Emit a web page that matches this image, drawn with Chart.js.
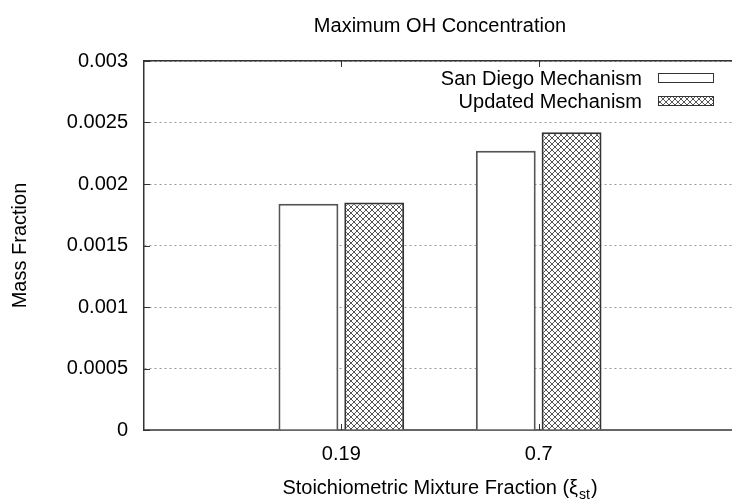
<!DOCTYPE html>
<html>
<head>
<meta charset="utf-8">
<script src="https://cdn.jsdelivr.net/npm/chart.js@4/dist/chart.umd.min.js"></script>
<style>
  html, body { margin: 0; padding: 0; background: #fff; overflow: hidden; }
  canvas { display: block; }
</style>
</head>
<body>
<canvas id="chart" width="740" height="504"></canvas>
<script>
// x categories (stoichiometric mixture fraction) and peak OH mass fraction per mechanism
var categories = ['0.19', '0.7'];
var sanDiego = [0.00184, 0.00227];
var updated = [0.00185, 0.00242];
var seriesNames = ['San Diego Mechanism', 'Updated Mechanism'];

var FONT = '"Liberation Sans", Arial, Helvetica, sans-serif';

var ctx = document.getElementById('chart').getContext('2d');

// cross-hatch fill
var tile = document.createElement('canvas');
tile.width = 6; tile.height = 6;
var t = tile.getContext('2d');
t.fillStyle = '#fff';
t.fillRect(0, 0, 6, 6);
t.strokeStyle = '#555';
t.lineWidth = 1;
t.beginPath();
t.moveTo(0, 0); t.lineTo(6, 6);
t.moveTo(6, 0); t.lineTo(0, 6);
t.stroke();
var hatch = ctx.createPattern(tile, 'repeat');

// empty slots either side so the two groups sit at 1/3 and 2/3 of the axis
var labels = [''].concat(categories, ['']);
function pad(arr) { return [null].concat(arr, [null]); }

var decor = {
  id: 'decor',
  afterDraw: function(chart) {
    var c = chart.ctx;
    var a = chart.chartArea;
    var cx = (a.left + a.right) / 2;
    c.save();
    c.fillStyle = '#000';
    c.font = '20px ' + FONT;

    // title
    c.textAlign = 'center';
    c.textBaseline = 'alphabetic';
    c.fillText('Maximum OH Concentration', cx, 32);

    // x axis title with subscript
    var main = 'Stoichiometric Mixture Fraction (\u03BE';
    c.font = '20px ' + FONT;
    var w1 = c.measureText(main).width;
    c.font = '14px ' + FONT;
    var w2 = c.measureText('st').width;
    c.font = '20px ' + FONT;
    var w3 = c.measureText(')').width;
    var x0 = cx - (w1 + w2 + w3 + 2) / 2;
    c.textAlign = 'left';
    c.fillText(main, x0, 494);
    c.font = '14px ' + FONT;
    c.fillText('st', x0 + w1 + 1, 499);
    c.font = '20px ' + FONT;
    c.fillText(')', x0 + w1 + w2 + 2, 494);

    // y axis title
    c.save();
    c.translate(20, (a.top + a.bottom) / 2);
    c.rotate(-Math.PI / 2);
    c.textAlign = 'center';
    c.textBaseline = 'middle';
    c.fillText('Mass Fraction', 0, 0);
    c.restore();

    // inward tick marks
    c.strokeStyle = '#333';
    c.lineWidth = 1;
    c.beginPath();
    var ys = chart.scales.y;
    ys.ticks.forEach(function(tk) {
      var py = Math.round(ys.getPixelForValue(tk.value)) + 0.5;
      c.moveTo(a.left, py); c.lineTo(a.left + 6, py);
    });
    var xs = chart.scales.x;
    for (var i = 1; i <= categories.length; i++) {
      var px = Math.round(xs.getPixelForValue(i)) + 0.5;
      c.moveTo(px, a.bottom); c.lineTo(px, a.bottom - 6);
      c.moveTo(px, a.top); c.lineTo(px, a.top + 6);
    }
    c.stroke();

    // key: text right-aligned, sample box on the right
    chart.data.datasets.forEach(function(ds, k) {
      var yc = 78 + k * 23;
      c.font = '20px ' + FONT;
      c.textAlign = 'right';
      c.textBaseline = 'alphabetic';
      c.fillStyle = '#000';
      c.fillText(ds.label, 642, yc + 7);
      c.fillStyle = ds.backgroundColor;
      c.fillRect(658, yc - 4, 55, 8);
      c.strokeStyle = '#333';
      c.strokeRect(658.5, yc - 4.5, 55, 9);
    });
    c.restore();
  }
};

new Chart(ctx, {
  type: 'bar',
  data: {
    labels: labels,
    datasets: [
      {
        label: seriesNames[0],
        data: pad(sanDiego),
        backgroundColor: '#fff',
        borderColor: '#555',
        borderWidth: 2,
        borderSkipped: 'bottom'
      },
      {
        label: seriesNames[1],
        data: pad(updated),
        backgroundColor: hatch,
        borderColor: '#333',
        borderWidth: 2,
        borderSkipped: 'bottom'
      }
    ]
  },
  plugins: [decor],
  options: {
    responsive: false,
    animation: false,
    categoryPercentage: 0.667,
    barPercentage: 0.91,
    layout: { padding: { left: 0, right: 2, top: 61, bottom: 0 } },
    plugins: {
      legend: { display: false },
      title: { display: false },
      tooltip: { enabled: false }
    },
    scales: {
      x: {
        type: 'category',
        position: 'bottom',
        offset: false,
        grid: { display: false },
        border: { display: true, color: '#666', width: 2 },
        ticks: {
          autoSkip: false,
          maxRotation: 0,
          padding: 4,
          color: '#000',
          font: { family: FONT, size: 20 }
        },
        afterFit: function(s) { s.height = 74; }
      },
      xTop: {
        type: 'category',
        position: 'top',
        offset: false,
        grid: { display: false },
        border: { display: true, color: '#333', width: 1.5 },
        ticks: { display: false },
        afterFit: function(s) { s.height = 0; }
      },
      y: {
        min: 0,
        max: 0.003,
        grid: {
          color: '#999',
          lineWidth: 1,
          drawTicks: false
        },
        border: { display: true, color: '#333', width: 1.5, dash: [2, 3] },
        ticks: {
          stepSize: 0.0005,
          padding: 16,
          color: '#000',
          font: { family: FONT, size: 20 },
          callback: function(v) { return String(+v.toFixed(4)); }
        },
        afterFit: function(s) { s.width = 144; }
      }
    }
  }
});
</script>
</body>
</html>
